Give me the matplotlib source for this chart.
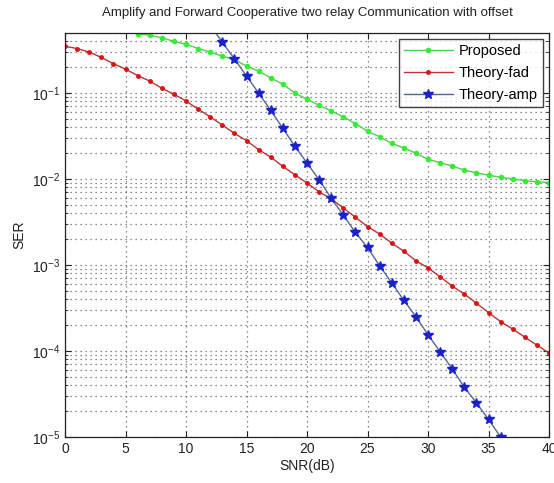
import numpy as np
import matplotlib
matplotlib.use("Agg")
import matplotlib.pyplot as plt
from matplotlib.ticker import LogLocator, NullFormatter

plt.rcParams['font.family'] = ['Liberation Sans', 'DejaVu Sans']

# ---- data ----
snr_fad = list(range(0, 41))
ser_fad = [0.35, 0.33, 0.30, 0.26, 0.22, 0.19, 0.16, 0.138, 0.114, 0.097,
           0.081, 0.065, 0.053, 0.0425, 0.034, 0.028, 0.022, 0.018, 0.0141, 0.0112,
           0.0090, 0.0071, 0.0059, 0.0046, 0.0036, 0.0028, 0.0023, 0.0018, 0.00145, 0.00112,
           0.00093, 0.00073, 0.00057, 0.00046, 0.00036, 0.00028, 0.00022, 0.00018, 0.000145, 0.000117,
           0.000095]

snr_prop = list(range(6, 41))
ser_prop = [0.49, 0.47, 0.44, 0.40, 0.37, 0.33, 0.30, 0.27, 0.245, 0.206,
            0.18, 0.15, 0.127, 0.10, 0.085, 0.072, 0.062, 0.053, 0.044, 0.036,
            0.031, 0.026, 0.023, 0.020, 0.017, 0.0155, 0.0142, 0.0127, 0.0118, 0.0111,
            0.0105, 0.0100, 0.0096, 0.0093, 0.0091]

snr_amp = list(range(12, 37))
ser_amp = [0.62, 0.39, 0.25, 0.158, 0.10, 0.063, 0.039, 0.024, 0.0154, 0.0098,
           0.0060, 0.0038, 0.0024, 0.0016, 0.00098, 0.00062, 0.00039, 0.00025, 0.000155, 0.000098,
           0.000062, 0.000038, 0.000025, 0.000016, 0.00001]

labels = ['Proposed', 'Theory-fad', 'Theory-amp']
x_ticks = [0, 5, 10, 15, 20, 25, 30, 35, 40]

# ---- figure ----
fig = plt.figure(figsize=(5.54, 4.83), dpi=100)
ax = fig.add_axes([65/554, 1-437/483, (549-65)/554, (437-33)/483])

ax.semilogy(snr_prop, ser_prop, color='#55cc55', lw=1.0, marker='.', ms=6,
            mfc='#33ee33', mec='#33ee33', label=labels[0])
ax.semilogy(snr_fad, ser_fad, color='#bb3333', lw=1.0, marker='.', ms=5,
            mfc='#dd1111', mec='#dd1111', label=labels[1])
ax.semilogy(snr_amp, ser_amp, color='#556699', lw=1.0, marker='*', ms=7,
            mfc='#1a22cc', mec='#1a22cc', label=labels[2])

ax.set_xlim(0, 40)
ax.set_ylim(1e-5, 0.5)
ax.set_xticks(x_ticks)
ax.yaxis.set_major_locator(LogLocator(base=10, numticks=10))
ax.yaxis.set_minor_locator(LogLocator(base=10, subs=np.arange(2, 10), numticks=20))
ax.yaxis.set_minor_formatter(NullFormatter())

grid_style = dict(linestyle=(0, (1, 3)), color='#666666', lw=0.9)
ax.grid(True, which='major', axis='both', **grid_style)
ax.grid(True, which='minor', axis='y', **grid_style)

ax.tick_params(which='both', direction='in', top=True, right=True, labelsize=10, colors='#222222')
ax.tick_params(which='major', length=4)
ax.tick_params(which='minor', length=2)
for s in ax.spines.values():
    s.set_color('#222222')
    s.set_linewidth(0.9)

ax.set_title('Amplify and Forward Cooperative two relay Communication with offset',
             fontsize=9.5, color='#222222', pad=12)
ax.set_xlabel('SNR(dB)', fontsize=10, color='#222222', labelpad=2)
ax.set_ylabel('SER', fontsize=10, color='#222222', labelpad=4)

leg = ax.legend(loc='upper right', fontsize=10.5, frameon=True, fancybox=False,
                edgecolor='#111111', borderaxespad=0.4, handlelength=3.4,
                borderpad=0.35, labelspacing=0.55, handletextpad=0.4)
leg.get_frame().set_linewidth(1.0)

fig.savefig('out.png', dpi=100)
